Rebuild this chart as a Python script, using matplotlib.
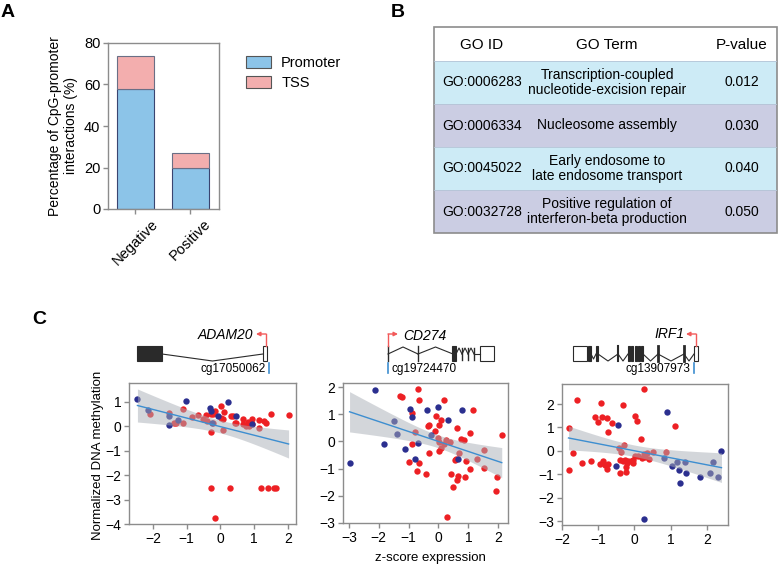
import matplotlib
matplotlib.use("Agg")
import numpy as np
import matplotlib.pyplot as plt
from matplotlib.patches import Rectangle, Patch

plt.rcParams['font.family'] = ['Liberation Sans', 'DejaVu Sans']

# ---- panel A data
groups = ['Negative', 'Positive']
promoter_pct = [58, 20]
tss_pct = [15.5, 7]

# ---- panel B data
table_header = ['GO ID', 'GO Term', 'P-value']
go_ids = ['GO:0006283', 'GO:0006334', 'GO:0045022', 'GO:0032728']
go_terms = ['Transcription-coupled\nnucleotide-excision repair',
            'Nucleosome assembly',
            'Early endosome to\nlate endosome transport',
            'Positive regulation of\ninterferon-beta production']
p_values = ['0.012', '0.030', '0.040', '0.050']

# ---- panel C data (z-score expression vs normalized methylation)
adam20_red_x = [-2.10, -1.51, -1.38, -1.33, -1.10, -1.10, -0.85, -0.67, -0.52, -0.44,
                -0.40, -0.28, -0.28, -0.22, -0.17, -0.21, 0.02, 0.03, 0.07, 0.08,
                0.11, 0.30, 0.37, 0.43, 0.47, 0.67, 0.67, 0.76, 0.81, 0.85,
                0.95, 0.95, 1.14, 1.14, 1.30, 1.35, 1.50, 2.02, -0.29, 0.29,
                1.20, 1.42, 1.60, 1.66, -0.17]
adam20_red_y = [0.52, 0.55, 0.12, 0.12, 0.72, 0.12, 0.37, 0.48, 0.29, 0.45,
                0.20, -0.22, 0.50, 0.50, 0.63, 0.14, 0.83, 0.33, 0.30, -0.14,
                0.57, 0.42, 0.42, 0.12, 0.12, 0.30, 0.10, -0.01, 0.16, -0.01,
                0.30, 0.10, 0.26, -0.08, 0.23, 0.14, 0.50, 0.45, -2.51, -2.51,
                -2.51, -2.51, -2.51, -2.51, -3.74]
adam20_blue_x = [-2.46, -2.14, -1.51, -1.51, -1.26, -1.02, -0.32, -0.28, -0.25, -0.06, 0.21, 0.47, 0.94]
adam20_blue_y = [1.13, 0.68, 0.40, 0.05, 0.27, 1.04, 0.73, 0.62, 0.14, 0.44, 0.98, 0.44, 0.08]

cd274_red_x = [-1.30, -1.23, -0.69, -0.64, -0.89, -0.80, -0.89, -0.99, -0.71, -0.66,
               0.18, 1.15, -0.07, -0.31, -0.36, 0.09, 0.03, 0.61, -0.11, 1.07,
               2.12, -0.02, 0.03, 0.25, 0.40, 0.20, 0.74, 0.85, 0.09, 0.03,
               -0.33, 0.68, 1.52, 1.28, 0.56, 0.60, 0.92, 1.54, 1.04, 0.42,
               -0.43, 0.65, 0.61, 0.89, 1.96, 0.48, 1.94, 0.29]
cd274_red_y = [1.67, 1.62, 1.94, 1.53, 1.05, 0.34, -0.10, -0.75, -1.07, -0.78,
               1.52, 1.15, 0.93, 0.62, 0.58, 0.78, 0.62, 0.50, 0.38, 0.32,
               0.23, 0.14, -0.02, 0.07, -0.02, -0.11, 0.10, 0.07, -0.23, -0.35,
               -0.42, -0.42, -0.32, -0.63, -0.70, -0.66, -0.72, -0.97, -1.03, -1.18,
               -1.21, -1.27, -1.40, -1.32, -1.30, -1.68, -1.83, -2.77]
cd274_blue_x = [-2.98, -2.14, -1.81, -1.49, -1.39, -1.11, -0.97, -0.89, -0.80, -0.67,
                -0.38, -0.02, 0.78, 0.33, -0.25, 0.65]
cd274_blue_y = [-0.81, 1.91, -0.09, 0.75, 0.29, -0.27, 1.20, 0.91, -0.64, -0.05,
                1.14, 1.27, 1.14, 0.78, 0.25, -0.63]

irf1_red_x = [-1.80, -1.82, -1.69, -1.59, -1.44, -1.20, -1.09, -1.00, -0.93, -0.90,
              -0.95, -0.86, -0.82, -0.77, -0.72, -0.75, -0.72, -0.61, -0.33, 0.02,
              0.07, 0.18, 0.27, 1.11, -0.41, -0.23, -0.44, -0.37, -0.30, -0.40,
              -0.32, -0.26, -0.21, -0.24, -0.17, -0.09, -0.05, -0.03, 0.02, 0.11,
              0.22, 0.25, 0.30, 0.34, 0.39, 0.50, 0.88]
irf1_red_y = [0.98, -0.82, -0.07, 2.17, -0.50, -0.43, 1.44, 1.24, 2.05, 1.44,
              -0.56, -0.43, -0.60, -0.78, -0.56, 1.41, 0.80, 1.19, 1.95, 1.51,
              1.26, 0.52, 2.63, 1.05, -0.96, -0.90, 0.11, -0.03, 0.23, -0.39,
              -0.43, -0.39, -0.53, -0.67, -0.42, -0.42, -0.53, -0.39, -0.22, -0.24,
              -0.29, -0.13, -0.27, -0.07, -0.35, -0.03, -0.03]
irf1_blue_x = [-0.46, -0.52, 0.25, 0.90, 0.81, 1.03, 1.18, 1.22, 1.26, 1.40, 1.43, 1.81, 2.08, 2.16, 2.31, 2.40]
irf1_blue_y = [1.09, -0.65, -2.90, 1.65, -0.29, -0.65, -0.46, -0.82, -1.36, -0.46, -0.93, -1.10, -0.93, -0.47, -1.10, 0.01]

RED = '#ED2024'
BLUE = '#2B2F8F'
LINE = '#3D8ED0'
SPINE = '#8c8c8c'

W, H = 778, 565
fig = plt.figure(figsize=(W / 100, H / 100), dpi=100)


def px_axes(left, top, right, bottom):
    # axes placed by pixel box (y measured from top)
    return fig.add_axes([left / W, 1 - bottom / H, (right - left) / W, (bottom - top) / H])


def style_box(ax, fs):
    for s in ax.spines.values():
        s.set_color(SPINE)
        s.set_linewidth(1)
    ax.tick_params(direction='out', length=3.5, width=1, color=SPINE, labelsize=fs, pad=2)


# overlay for gene drawings (pixel coords)
deco = fig.add_axes([0, 0, 1, 1])
deco.set_xlim(0, W)
deco.set_ylim(H, 0)
deco.axis('off')

# ---------------- panel A
axA = px_axes(108, 43, 219, 209)
xpos = np.arange(len(groups))
axA.bar(xpos, promoter_pct, width=0.67, color='#8CC4E8', edgecolor='#3A4470', lw=0.8)
axA.bar(xpos, tss_pct, width=0.67, bottom=promoter_pct, color='#F3AEAE', edgecolor='#6A6F86', lw=0.8)
axA.set_xlim(-0.5, 1.52)
axA.set_ylim(0, 80)
axA.set_yticks([0, 20, 40, 60, 80])
axA.set_xticks(xpos)
axA.set_xticklabels(groups, rotation=45)
style_box(axA, 10.5)
axA.set_ylabel('Percentage of CpG-promoter\ninteractions (%)', fontsize=10, labelpad=4)
fig.legend(handles=[Patch(facecolor='#8CC4E8', edgecolor='#555555', lw=0.8, label='Promoter'),
                    Patch(facecolor='#F3AEAE', edgecolor='#555555', lw=0.8, label='TSS')],
           loc='upper left', bbox_to_anchor=(233 / W, 1 - 43 / H), frameon=False,
           fontsize=10.5, handlelength=1.7, handleheight=0.9, labelspacing=0.4, handletextpad=0.7)

# ---------------- panel B (table)
axB = px_axes(434, 27, 777, 233)
head_h, row_h = 34, 43
total_h = head_h + row_h * len(go_ids)
axB.set_xlim(0, 1)
axB.set_ylim(total_h, 0)
axB.axis('off')
row_colors = ['#CDEBF6', '#CBCDE3']
col_x = [0.14, 0.505, 0.897]
for j, h in enumerate(table_header):
    axB.text(col_x[j], head_h / 2 + 1, h, ha='center', va='center', fontsize=11)
for i, (gid, term, p) in enumerate(zip(go_ids, go_terms, p_values)):
    y0 = head_h + i * row_h
    axB.add_patch(Rectangle((0, y0), 1, row_h, facecolor=row_colors[i % 2], edgecolor='none'))
    axB.axhline(y0, color='#b4c4d6', lw=0.6)
    for j, txt in enumerate([gid, term, p]):
        axB.text(col_x[j], y0 + row_h / 2, txt, ha='center', va='center', fontsize=10, linespacing=1.1)
axB.add_patch(Rectangle((0, 0), 1, total_h, fill=False, edgecolor=SPINE, lw=1.2, clip_on=False))

# ---------------- panel C (scatter + lm fit with 95% CI)
def lm_band(x, y):
    x = np.asarray(x)
    y = np.asarray(y)
    n = len(x)
    b, a = np.polyfit(x, y, 1)
    xs = np.linspace(x.min(), x.max(), 100)
    fit = a + b * xs
    s = np.sqrt(np.sum((y - (a + b * x)) ** 2) / (n - 2))
    se = s * np.sqrt(1 / n + (xs - x.mean()) ** 2 / np.sum((x - x.mean()) ** 2))
    return xs, fit, fit - 2.0 * se, fit + 2.0 * se


def scatter_panel(ax, rx, ry, bx, by, xlim, ylim, xticks, yticks):
    ax.scatter(rx, ry, s=21, color=RED, lw=0, zorder=2)
    ax.scatter(bx, by, s=21, color=BLUE, lw=0, zorder=2)
    xs, fit, lo, hi = lm_band(rx + bx, ry + by)
    ax.fill_between(xs, lo, hi, color='#A9AEB6', alpha=0.5, lw=0, zorder=3)
    ax.plot(xs, fit, color=LINE, lw=1, zorder=4)
    ax.set_xlim(*xlim)
    ax.set_ylim(*ylim)
    ax.set_xticks(xticks)
    ax.set_yticks(yticks)
    style_box(ax, 10)


ax1 = px_axes(129, 383, 296, 524)
scatter_panel(ax1, adam20_red_x, adam20_red_y, adam20_blue_x, adam20_blue_y,
              (-2.71, 2.24), (-4, 1.77), [-2, -1, 0, 1, 2], [-4, -3, -2, -1, 0, 1])
ax2 = px_axes(343, 383, 508, 523)
scatter_panel(ax2, cd274_red_x, cd274_red_y, cd274_blue_x, cd274_blue_y,
              (-3.2, 2.33), (-3, 2.15), [-3, -2, -1, 0, 1, 2], [-3, -2, -1, 0, 1, 2])
ax3 = px_axes(562, 384, 728, 525)
scatter_panel(ax3, irf1_red_x, irf1_red_y, irf1_blue_x, irf1_blue_y,
              (-2, 2.58), (-3.17, 2.86), [-2, -1, 0, 1, 2], [-3, -2, -1, 0, 1, 2])

fig.text(98 / W, 1 - 455 / H, 'Normalized DNA methylation', rotation=90,
         ha='center', va='center', fontsize=9.5)
fig.text(430 / W, 1 - 558 / H, 'z-score expression', ha='center', va='center', fontsize=9.5)

# ---------------- gene models (schematic, pixel coords)
GENE = '#2a2a2a'
ARROW = '#F25A5A'


def exon(x0, x1, filled=True):
    deco.add_patch(Rectangle((x0, 346), x1 - x0, 15, facecolor=GENE if filled else 'white',
                             edgecolor=GENE, lw=0.8))


def intron(x0, x1, dy):
    deco.plot([x0, (x0 + x1) / 2, x1], [354, 354 + dy, 354], color=GENE, lw=0.8)


def tss_arrow(x, direction):
    deco.plot([x, x], [346, 334], color=ARROW, lw=1)
    deco.annotate('', xy=(x + 10 * direction, 334), xytext=(x, 334),
                  arrowprops=dict(arrowstyle='-|>', color=ARROW, lw=1, mutation_scale=6,
                                  shrinkA=0, shrinkB=0))


def probe(x, label, ha):
    deco.plot([x, x], [363, 373], color=LINE, lw=1.2)
    deco.text(x + (-4 if ha == 'right' else 4), 369, label, ha=ha, va='center', fontsize=8.5)


# ADAM20
exon(137, 162)
intron(162, 263, 7)
exon(263, 267, filled=False)
tss_arrow(266, -1)
deco.text(253, 335, 'ADAM20', ha='right', va='center', fontsize=10, style='italic')
probe(269.5, 'cg17050062', 'right')

# CD274
deco.plot([388, 388], [346, 361], color=GENE, lw=1)
intron(388, 418, -7)
deco.plot([418, 418], [346, 361], color=GENE, lw=1)
intron(418, 453, -7)
exon(452, 456)
for xa in [456, 462, 468]:
    intron(xa, xa + 6, -6)
    deco.plot([xa + 6, xa + 6], [348, 360], color=GENE, lw=1)
deco.plot([474, 480], [354, 354], color=GENE, lw=0.8)
exon(480, 494, filled=False)
tss_arrow(388, 1)
deco.text(403, 336, 'CD274', ha='left', va='center', fontsize=10, style='italic')
probe(388, 'cg19724470', 'left')

# IRF1
exon(573, 587, filled=False)
exon(588, 591)
intron(591, 596, 5)
exon(596, 598)
intron(598, 618, 7)
deco.plot([618, 618], [346, 361], color=GENE, lw=1.5)
intron(618, 628, 7)
for xa in [628, 631.5, 635, 638.5, 641.5]:
    exon(xa, xa + 1.8)
intron(643, 658, 7)
deco.plot([658, 658], [346, 361], color=GENE, lw=2)
intron(658, 684, 7)
deco.plot([684, 684], [346, 361], color=GENE, lw=2)
intron(684, 694, 7)
exon(694, 698, filled=False)
tss_arrow(696, -1)
deco.text(685, 334, 'IRF1', ha='right', va='center', fontsize=10, style='italic')
probe(694.5, 'cg13907973', 'right')

# panel letters
for lab, x, y in [('A', 1, 4), ('B', 391, 4), ('C', 32, 311)]:
    fig.text(x / W, 1 - y / H, lab, ha='left', va='top', fontsize=14, fontweight='bold')

fig.savefig('out.png', dpi=100)
